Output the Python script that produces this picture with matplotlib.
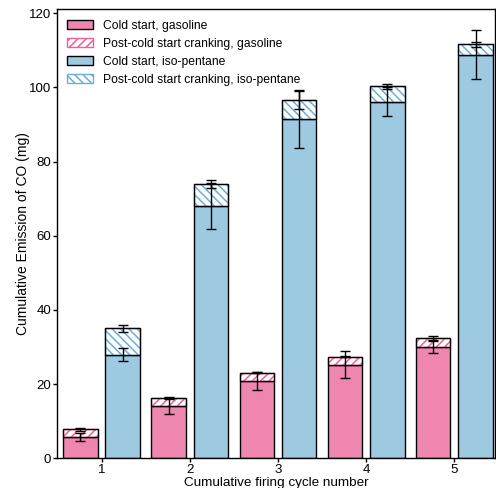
import numpy as np
import matplotlib
matplotlib.use('Agg')
import matplotlib.pyplot as plt

plt.rcParams['font.family'] = ['Liberation Sans', 'DejaVu Sans']
plt.rcParams['hatch.linewidth'] = 1.1

# 循环次数
cycles = [1, 2, 3, 4, 5]

# 汽油：冷启动累计排放及其误差，启动后累计排放（总量）及其误差
gas_cold = [5.7, 14.1, 20.8, 25.2, 29.9]
gas_cold_err = [1.1, 2.2, 2.4, 3.6, 1.6]
gas_total = [7.8, 16.2, 23.1, 27.4, 32.4]
gas_total_err = [0.4, 0.2, 0.2, 0.2, 0.6]

# 异戊烷
iso_cold = [27.9, 68.0, 91.6, 96.2, 108.8]
iso_cold_err = [1.8, 6.2, 7.8, 4.0, 6.6]
iso_total = [35.0, 74.0, 96.7, 100.3, 111.6]
iso_total_err = [0.95, 1.1, 2.4, 0.7, 0.7]

pink = '#ee86b0'
pink_hatch = '#f0609a'
blue = '#9ecae1'
blue_hatch = '#6baed6'

x = np.array(cycles, dtype=float)
width = 0.39
off = 0.24

fig = plt.figure(figsize=(4.96, 4.88), dpi=100)
ax = fig.add_axes([0.115, 0.061, 0.883, 0.92])

gas_post = np.array(gas_total) - np.array(gas_cold)
iso_post = np.array(iso_total) - np.array(iso_cold)

# 冷启动（实心）
b1 = ax.bar(x - off, gas_cold, width, color=pink, edgecolor='black', linewidth=1,
            label='Cold start, gasoline')
# 启动后（斜线填充），先用彩色画斜线，再叠加黑色边框
b2 = ax.bar(x - off, gas_post, width, bottom=gas_cold, color='white', edgecolor=pink_hatch,
            hatch='////', linewidth=1, label='Post-cold start cranking, gasoline')
ax.bar(x - off, gas_post, width, bottom=gas_cold, fill=False, edgecolor='black', linewidth=1)

b3 = ax.bar(x + off, iso_cold, width, color=blue, edgecolor='black', linewidth=1,
            label='Cold start, iso-pentane')
b4 = ax.bar(x + off, iso_post, width, bottom=iso_cold, color='white', edgecolor=blue_hatch,
            hatch='\\\\\\\\', linewidth=1, label='Post-cold start cranking, iso-pentane')
ax.bar(x + off, iso_post, width, bottom=iso_cold, fill=False, edgecolor='black', linewidth=1)

# 误差棒
ekw = dict(fmt='none', ecolor='black', elinewidth=1, capsize=3.5, capthick=1)
ax.errorbar(x - off, gas_cold, yerr=gas_cold_err, **ekw)
ax.errorbar(x - off, gas_total, yerr=gas_total_err, **ekw)
ax.errorbar(x + off, iso_cold, yerr=iso_cold_err, **ekw)
ax.errorbar(x + off, iso_total, yerr=iso_total_err, **ekw)

ax.set_xlim(0.496, 5.46)
ax.set_ylim(0, 121.1)
ax.set_xticks(cycles)
ax.set_yticks(range(0, 121, 20))
ax.tick_params(direction='out', length=2.8, width=1, labelsize=9.5, colors='black', pad=1.5)
for s in ax.spines.values():
    s.set_linewidth(1)
    s.set_color('black')

ax.set_xlabel('Cumulative firing cycle number', fontsize=9.7, labelpad=0.5)
ax.set_ylabel('Cumulative Emission of CO (mg)', fontsize=10, labelpad=-1)

ax.legend(handles=[b1, b2, b3, b4], loc='upper left', frameon=False, fontsize=8.7,
          handlelength=2.1, handleheight=0.75, handletextpad=0.85, labelspacing=0.5,
          borderaxespad=0.45, bbox_to_anchor=(0.0, 1.0))

plt.savefig('out.png', dpi=100)
